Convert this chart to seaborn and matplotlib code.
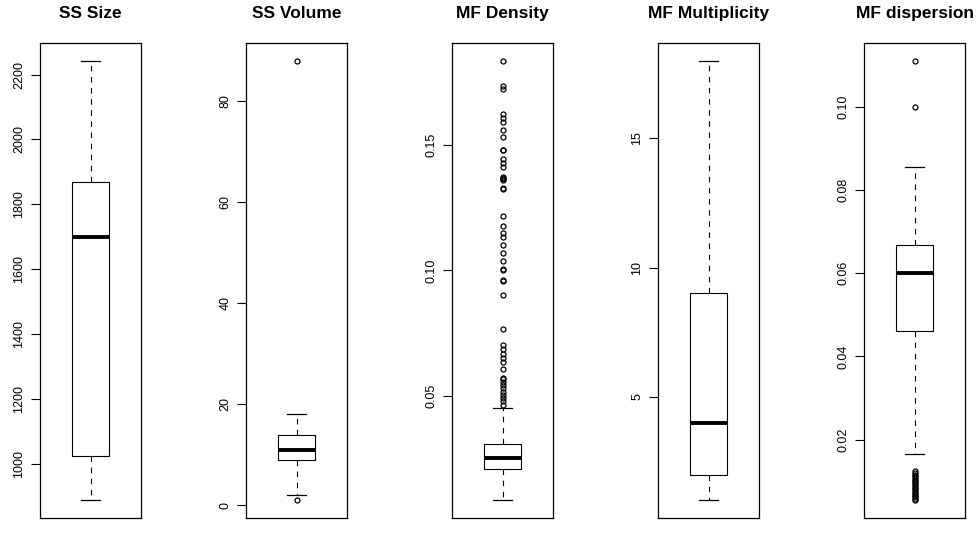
import numpy as np
import matplotlib
matplotlib.use("Agg")
import matplotlib.pyplot as plt
import seaborn as sns
from matplotlib.ticker import FixedLocator, FormatStrFormatter

# panel titles
titles = ["SS Size", "SS Volume", "MF Density", "MF Multiplicity", "MF dispersion"]

ss_size = [888, 1024, 1700, 1870, 2243]
ss_volume = [1, 2, 9, 10, 11, 12, 14, 18, 88]
mf_multiplicity = [1, 2, 4, 9, 18]

# MF Density: bulk values with their counts, plus the outliers
mf_density_values = [0.0083, 0.0120, 0.0160, 0.0207, 0.0230, 0.0251, 0.0280, 0.0309, 0.0350, 0.0400, 0.0452]
mf_density_counts = [1, 10, 20, 40, 25, 40, 25, 30, 2, 1, 1]
mf_density_outliers = [0.1837, 0.1737, 0.1724, 0.1624, 0.1608, 0.1591, 0.1562, 0.1534, 0.1482, 0.1480,
                       0.1446, 0.1430, 0.1413, 0.1372, 0.1370, 0.1366, 0.1362, 0.1329, 0.1326, 0.1219,
                       0.1176, 0.1148, 0.1132, 0.1102, 0.1070, 0.1038, 0.1005, 0.1002, 0.0960, 0.0958,
                       0.0904, 0.0768, 0.0701, 0.0685, 0.0668, 0.0652, 0.0633, 0.0608, 0.0573, 0.0569,
                       0.0556, 0.0543, 0.0530, 0.0517, 0.0504, 0.0491, 0.0478, 0.0465]

# MF dispersion: bulk values with their counts, plus the outliers
mf_dispersion_values = [0.0166, 0.0250, 0.0350, 0.0462, 0.0530, 0.0601, 0.0640, 0.0667, 0.0750, 0.0856]
mf_dispersion_counts = [1, 5, 10, 30, 20, 30, 10, 40, 8, 1]
mf_dispersion_outliers = [0.1111, 0.1000, 0.0124, 0.0120, 0.0116, 0.0112, 0.0108, 0.0104, 0.0100, 0.0096,
                          0.0093, 0.0089, 0.0085, 0.0081, 0.0077, 0.0073, 0.0069, 0.0065, 0.0061,
                          0.0058, 0.0054]

# tick marks per panel
ticks = [
    [1000, 1200, 1400, 1600, 1800, 2000, 2200],
    [0, 20, 40, 60, 80],
    [0.05, 0.10, 0.15],
    [5, 10, 15],
    [0.02, 0.04, 0.06, 0.08, 0.10],
]
tick_formats = ["%d", "%d", "%.2f", "%d", "%.2f"]

mf_density = np.concatenate([np.repeat(mf_density_values, mf_density_counts), mf_density_outliers])
mf_dispersion = np.concatenate([np.repeat(mf_dispersion_values, mf_dispersion_counts), mf_dispersion_outliers])
panels = [ss_size, ss_volume, mf_density, mf_multiplicity, mf_dispersion]

plt.rcParams["font.family"] = ["Liberation Sans", "DejaVu Sans"]

fig = plt.figure(figsize=(9.77, 5.37), dpi=100)
lefts = [40, 246, 452, 658, 864]

for i, (data, title) in enumerate(zip(panels, titles)):
    ax = fig.add_axes([lefts[i] / 977, 1 - 518 / 537, 101 / 977, 475 / 537])
    sns.boxplot(
        y=np.asarray(data, dtype=float), ax=ax, width=0.37,
        color="white", linecolor="black", linewidth=0.8,
        whis=1.5,
        whiskerprops=dict(linestyle=(0, (5, 5)), linewidth=0.8),
        capprops=dict(linewidth=0.9),
        medianprops=dict(linewidth=2.8, color="black"),
        flierprops=dict(marker="o", markerfacecolor="none", markeredgecolor="black",
                        markersize=3.6, markeredgewidth=0.9),
    )
    d = np.asarray(data, dtype=float)
    r = d.max() - d.min()
    ax.set_ylim(d.min() - 0.04 * r, d.max() + 0.04 * r)
    ax.set_xlim(-0.5, 0.5)
    ax.set_xticks([])
    ax.set_xlabel("")
    ax.set_ylabel("")
    ax.yaxis.set_major_locator(FixedLocator(ticks[i]))
    ax.yaxis.set_major_formatter(FormatStrFormatter(tick_formats[i]))
    ax.tick_params(axis="y", direction="out", length=6.5, width=0.8, labelsize=9, pad=4)
    plt.setp(ax.get_yticklabels(), rotation=90, va="center")
    for s in ax.spines.values():
        s.set_visible(True)
        s.set_color("black")
        s.set_linewidth(0.9)
    ax.set_title(title, fontsize=12.5, fontweight="bold", pad=18)

fig.savefig("out.png", dpi=100)
